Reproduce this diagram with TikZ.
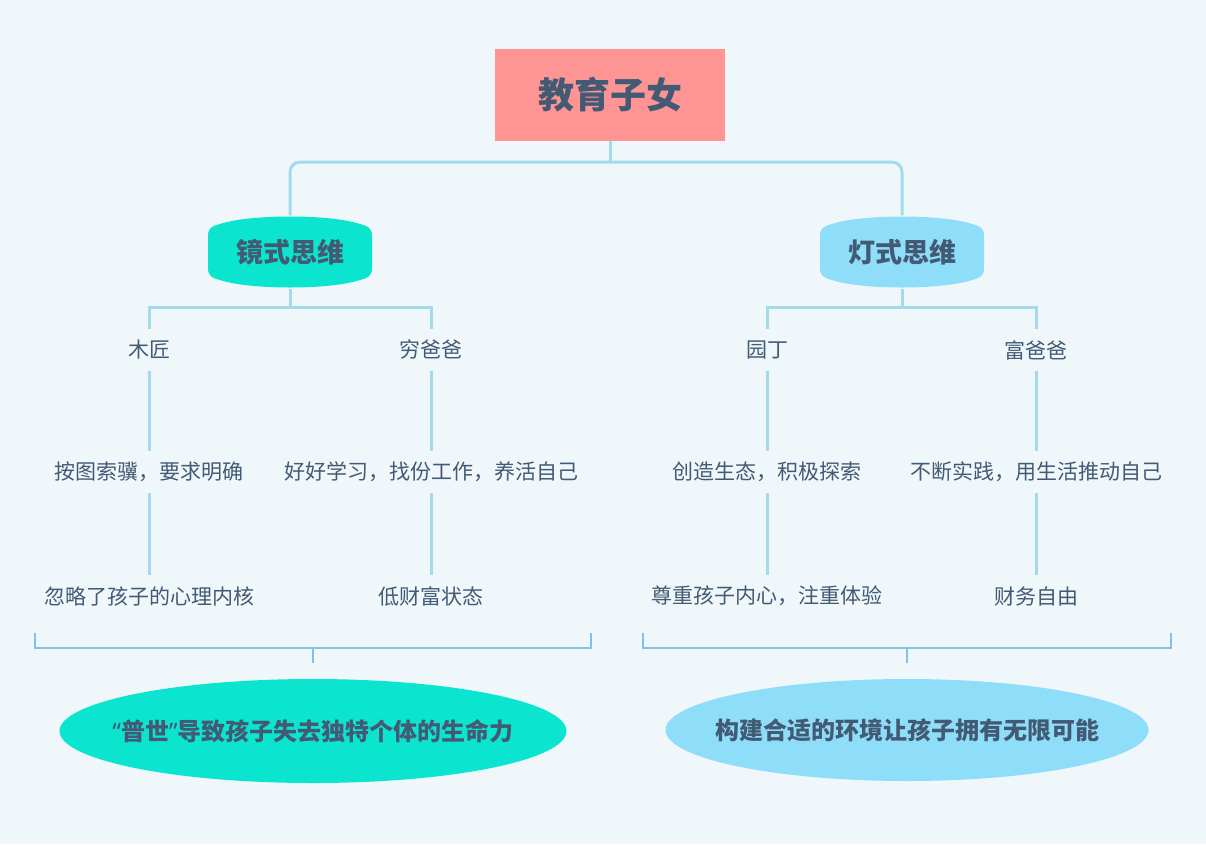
\documentclass[tikz,border=0pt]{standalone}
\usepackage{fontspec}
\setmainfont{Noto Sans CJK SC}
\newfontfamily\latinq{Noto Sans}
\usetikzlibrary{shapes.geometric}
\definecolor{bg}{HTML}{EFF7FA}
\definecolor{titlefill}{HTML}{FF9494}
\definecolor{txt}{HTML}{435A74}
\definecolor{teal}{HTML}{0BE5CF}
\definecolor{sky}{HTML}{8EDDF9}
\definecolor{conn}{HTML}{A4DAEA}
\definecolor{brk}{HTML}{86C1E3}
\tikzset{
  conline/.style={draw=conn, line width=3pt},
  brkline/.style={draw=brk, line width=1.5pt},
  titlebox/.style={fill=titlefill, text=txt, font=\fontsize{36}{40}\selectfont\bfseries, minimum width=230pt, minimum height=92pt, inner sep=0pt},
  branchbox/.style={text=txt, font=\fontsize{27}{30}\selectfont\bfseries, minimum width=165pt, minimum height=73pt, inner sep=0pt},
  leaf/.style={text=txt, font=\fontsize{21}{24}\selectfont, minimum height=42pt, inner sep=0pt},
  summ/.style={ellipse, inner sep=0pt},
  summtext/.style={text=txt, font=\fontsize{24}{28}\selectfont\bfseries, inner sep=0pt},
}
\newcommand{\branchshape}[2]{%
  \fill[#2, shift={(#1)}] (-82,-16) -- (-82,16) .. controls (-82,24) and (-78,26) .. (-70,28)
    .. controls (-40,38) and (40,38) .. (70,28) .. controls (78,26) and (82,24) .. (82,16)
    -- (82,-16) .. controls (82,-24) and (78,-26) .. (70,-28)
    .. controls (40,-38) and (-40,-38) .. (-70,-28) .. controls (-78,-26) and (-82,-24) .. (-82,-16) -- cycle;}
\begin{document}
\begin{tikzpicture}[x=1pt, y=-1pt]
\fill[bg] (0,0) rectangle (1206,844);
\useasboundingbox (0,0) rectangle (1206,844);

% title
\node[titlebox] (t) at (610,95) {教育子女};

% branch shapes
\branchshape{290,252}{teal}
\branchshape{902,252}{sky}
\node[branchbox] (b1) at (290,252) {镜式思维};
\node[branchbox] (b2) at (902,252) {灯式思维};

% junctions
\coordinate (j0) at (610,162);
\coordinate (j1) at (290,307);
\coordinate (j2) at (902,307);

\draw[conline] (t.south) -- (j0);
\draw[conline, rounded corners=10pt] (b1.north) |- (j0) -| (b2.north);

% leaves
\node[leaf] (a1) at (149,350) {木匠};
\node[leaf] (a2) at (149,472) {按图索骥，要求明确};
\node[leaf] (a3) at (149,596) {忽略了孩子的心理内核};
\node[leaf] (c1) at (431,350) {穷爸爸};
\node[leaf] (c2) at (431,472) {好好学习，找份工作，养活自己};
\node[leaf] (c3) at (431,596) {低财富状态};
\node[leaf] (d1) at (767,350) {园丁};
\node[leaf] (d2) at (767,472) {创造生态，积极探索};
\node[leaf] (d3) at (767,596) {尊重孩子内心，注重体验};
\node[leaf] (e1) at (1036,350) {富爸爸};
\node[leaf] (e2) at (1036,472) {不断实践，用生活推动自己};
\node[leaf] (e3) at (1036,596) {财务自由};

\draw[conline] (b1.south) -- (j1);
\draw[conline] (a1.north) |- (j1) -| (c1.north);
\draw[conline] (b2.south) -- (j2);
\draw[conline] (d1.north) |- (j2) -| (e1.north);

\draw[conline] (a1.south) -- (a2.north);
\draw[conline] (a2.south) -- (a3.north);
\draw[conline] (c1.south) -- (c2.north);
\draw[conline] (c2.south) -- (c3.north);
\draw[conline] (d1.south) -- (d2.north);
\draw[conline] (d2.south) -- (d3.north);
\draw[conline] (e1.south) -- (e2.north);
\draw[conline] (e2.south) -- (e3.north);

% brackets
\coordinate (bl1) at (35,633);
\coordinate (bl2) at (591,633);
\coordinate (bl3) at (313,648);
\coordinate (bl4) at (313,663);
\coordinate (br1) at (643,633);
\coordinate (br2) at (1171,633);
\coordinate (br3) at (907,648);
\coordinate (br4) at (907,663);
\draw[brkline] (bl1) |- (bl3) -| (bl2);
\draw[brkline] (bl3) -- (bl4);
\draw[brkline] (br1) |- (br3) -| (br2);
\draw[brkline] (br3) -- (br4);

% summaries
\node[summ, fill=teal, minimum width=507pt, minimum height=104pt,
  label={[summtext]center:{\latinq\bfseries “}普世{\latinq\bfseries ”}导致孩子失去独特个体的生命力}] (s1) at (313,731) {};
\node[summ, fill=sky, minimum width=483pt, minimum height=102pt,
  label={[summtext]center:构建合适的环境让孩子拥有无限可能}] (s2) at (907,730) {};
\end{tikzpicture}
\end{document}
